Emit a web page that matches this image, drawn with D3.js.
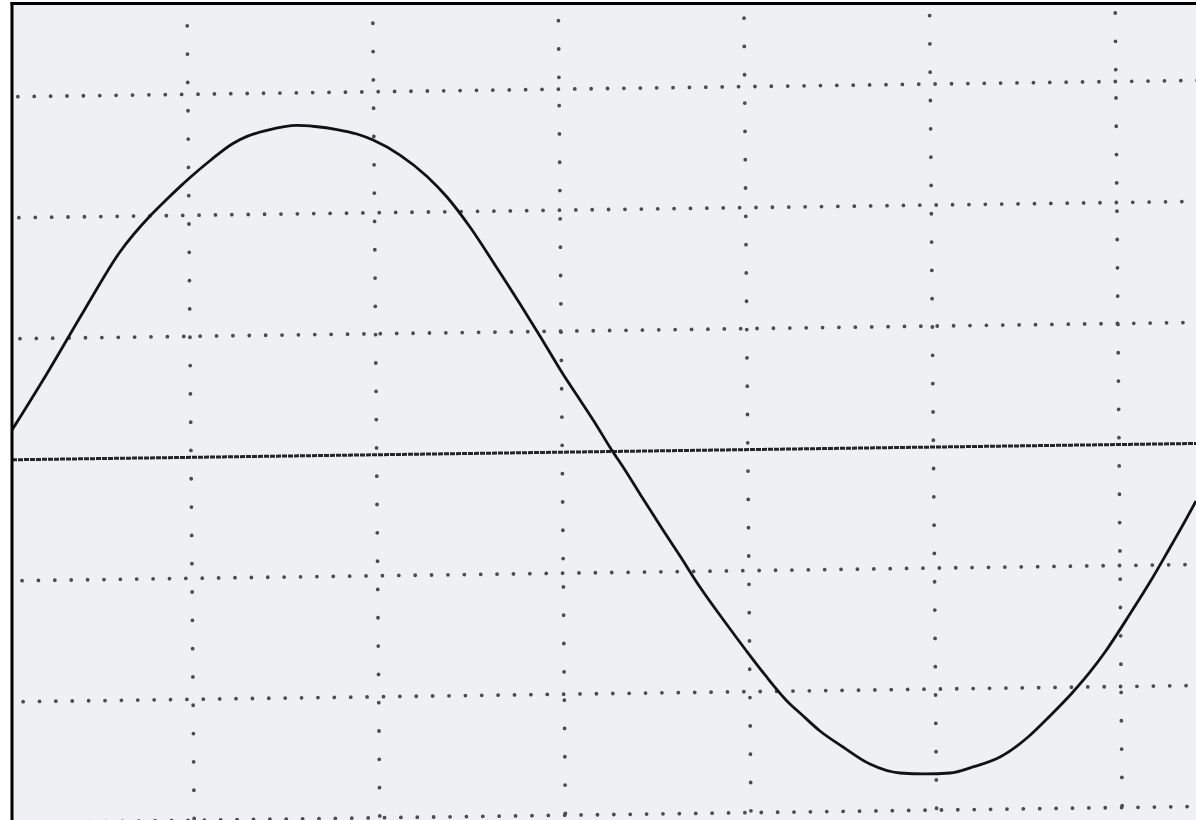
<!DOCTYPE html>
<html>
<head>
<meta charset="utf-8">
<script src="https://cdn.jsdelivr.net/npm/d3@7/dist/d3.min.js"></script>
<style>
  html, body { margin: 0; padding: 0; background: #ffffff; }
  svg { display: block; }
</style>
</head>
<body>
<svg id="chart" width="1196" height="820"></svg>
<script>
// ---- data (divisions on the scope screen) ----
const gridTimes = [1, 2, 3, 4, 5, 6];          // vertical graticule lines
const gridVolts = [-3, -2, -1, 1, 2, 3];       // horizontal graticule lines
const baseline = [0];                          // centre trace (zero volts)

const traceTime = [0.036, 0.203, 0.429, 0.617, 0.779, 0.871, 0.941, 0.989, 1.102, 1.226,
  1.302, 1.409, 1.571, 1.668, 1.787, 1.894, 1.981, 2.126, 2.272, 2.379,
  2.503, 2.638, 2.773, 2.880, 3.004, 3.096, 3.177, 3.263, 3.328, 3.419,
  3.543, 3.635, 3.742, 3.877, 3.985, 4.093, 4.227, 4.281, 4.389, 4.513,
  4.658, 4.820, 4.955, 5.089, 5.213, 5.359, 5.504, 5.628, 5.752, 5.844,
  5.925, 6.059, 6.167, 6.286, 6.329, 6.415];
const traceVolt = [0.178, 0.591, 1.178, 1.649, 1.946, 2.087, 2.189, 2.256, 2.403, 2.546,
  2.604, 2.654, 2.695, 2.686, 2.661, 2.624, 2.574, 2.450, 2.273, 2.103,
  1.855, 1.541, 1.219, 0.955, 0.640, 0.426, 0.236, 0.021, -0.128, -0.351,
  -0.649, -0.864, -1.120, -1.409, -1.632, -1.847, -2.087, -2.161, -2.310, -2.442,
  -2.583, -2.657, -2.665, -2.657, -2.607, -2.525, -2.368, -2.186, -1.988, -1.822,
  -1.657, -1.343, -1.079, -0.764, -0.649, -0.409];

// ---- layout ----
const W = 1196, H = 820;
const svg = d3.select("#chart");

const x = d3.scaleLinear().domain([1, 6]).range([191, 1119]);
const y = d3.scaleLinear().domain([-3, 3]).range([814.5, 88.5]);

// slight skew of the photographed screen
const cx = 612, cy = 451.5, sx = 0.0087, sy = -0.0138;
const skew = `matrix(1, ${sy}, ${sx}, 1, ${-sx * cy}, ${-sy * cx})`;

svg.append("rect").attr("width", W).attr("height", H).attr("fill", "#ffffff");

svg.append("defs").append("clipPath").attr("id", "screen")
  .append("rect").attr("x", 13).attr("y", 5).attr("width", W - 13).attr("height", H - 5);

// screen background
svg.append("rect").attr("x", 12).attr("y", 3.5).attr("width", W - 12).attr("height", H - 3.5)
  .attr("fill", "#eef0f3");

const g = svg.append("g").attr("clip-path", "url(#screen)")
  .append("g").attr("transform", skew);

// horizontal dotted graticule
g.selectAll("line.h").data(gridVolts).join("line")
  .attr("class", "h")
  .attr("x1", 21).attr("x2", W + 20)
  .attr("y1", d => y(d)).attr("y2", d => y(d))
  .attr("stroke", "#4a4c50").attr("stroke-width", 3.8)
  .attr("stroke-linecap", "round")
  .attr("stroke-dasharray", "0.01 16.37");

// vertical dotted graticule
g.selectAll("line.v").data(gridTimes).join("line")
  .attr("class", "v")
  .attr("x1", d => x(d)).attr("x2", d => x(d))
  .attr("y1", 20).attr("y2", H + 20)
  .attr("stroke", "#4a4c50").attr("stroke-width", 3.8)
  .attr("stroke-linecap", "round")
  .attr("stroke-dasharray", "0.01 28.3");

// centre (zero) trace
g.selectAll("line.base").data(baseline).join("line")
  .attr("class", "base")
  .attr("x1", 0).attr("x2", W + 20)
  .attr("y1", d => y(d)).attr("y2", d => y(d))
  .attr("stroke", "#242528").attr("stroke-width", 3)
  .attr("stroke-dasharray", "5 1");

// signal trace (read in screen coordinates, drawn unskewed)
const pts = traceTime.map((t, i) => [t, traceVolt[i]]);
const line = d3.line().x(d => x(d[0])).y(d => y(d[1])).curve(d3.curveMonotoneX);
svg.append("g").attr("clip-path", "url(#screen)")
  .append("path").datum(pts)
  .attr("d", line)
  .attr("fill", "none")
  .attr("stroke", "#121212").attr("stroke-width", 2.8)
  .attr("stroke-linejoin", "round");

// frame (top and left edges)
svg.append("line").attr("x1", 10.5).attr("x2", W).attr("y1", 3.5).attr("y2", 3.5)
  .attr("stroke", "#000").attr("stroke-width", 3);
svg.append("line").attr("x1", 12).attr("x2", 12).attr("y1", 2).attr("y2", H)
  .attr("stroke", "#000").attr("stroke-width", 3);
</script>
</body>
</html>
